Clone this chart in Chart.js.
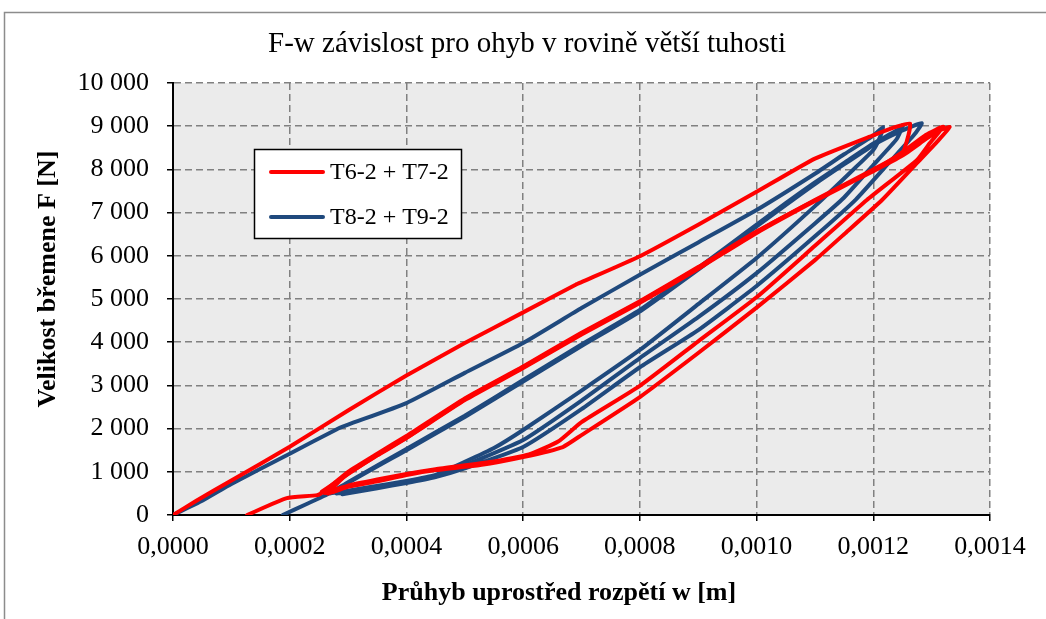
<!DOCTYPE html>
<html>
<head>
<meta charset="utf-8">
<script src="https://cdn.jsdelivr.net/npm/chart.js@4.4.1/dist/chart.umd.min.js"></script>
<style>
  html, body { margin: 0; padding: 0; background: #fff; }
  #wrap { width: 1046px; height: 619px; position: relative; }
</style>
</head>
<body>
<div id="wrap"><canvas id="chart" width="1046" height="619"></canvas></div>
<script>
// Popisky a osy
const titleText = 'F-w závislost pro ohyb v rovině větší tuhosti';
const xTitle = 'Průhyb uprostřed rozpětí w [m]';
const yTitle = 'Velikost břemene F [N]';
const seriesNames = ['T6-2 + T7-2', 'T8-2 + T9-2'];
const seriesColors = ['#ff0000', '#1f497d'];

// T6-2 : první zatížení a odlehčení
const t6W = [0, 0.00004, 0.0001, 0.0002, 0.0003, 0.0004, 0.0005, 0.0006, 0.00069, 0.0007, 0.0008, 0.0009, 0.001, 0.0011, 0.0012, 0.00124, 0.001263,
  0.00126, 0.00125, 0.0012, 0.0011, 0.001, 0.0009, 0.0008, 0.0007, 0.0006, 0.0005, 0.0004, 0.00035, 0.0003, 0.000255];
const t6F = [0, 330, 800, 1580, 2420, 3230, 3980, 4690, 5330, 5390, 5990, 6720, 7480, 8250, 8790, 8990, 9060,
  8780, 8380, 8000, 7290, 6550, 5720, 4930, 4200, 3420, 2680, 1790, 1390, 950, 540];

// T7-2 : opakované cykly
const t7W = [0.000127, 0.000195, 0.000247, 0.00026,
  0.0003, 0.00035, 0.0004, 0.0005, 0.0006, 0.0007, 0.0008, 0.0009, 0.001, 0.0011, 0.0012, 0.00125, 0.00129, 0.00131, 0.001331,
  0.00131, 0.001275, 0.001215, 0.00115, 0.0011, 0.001, 0.0009, 0.0008, 0.0007, 0.000668, 0.0006, 0.000526, 0.00045, 0.0004, 0.00035, 0.0003, 0.000265,
  0.0003, 0.00035, 0.0004, 0.0005, 0.0006, 0.0007, 0.0008, 0.0009, 0.001, 0.0011, 0.0012, 0.00125, 0.00129, 0.00132,
  0.001297, 0.001275, 0.001189, 0.0011, 0.001, 0.0009, 0.0008, 0.0007, 0.00066, 0.00061, 0.00055, 0.00045, 0.0004, 0.00035, 0.0003, 0.00026];
const t7F = [0, 390, 460, 560,
  1000, 1420, 1830, 2700, 3440, 4220, 4950, 5740, 6560, 7280, 7960, 8320, 8700, 8880, 8981,
  8650, 8150, 7292, 6500, 5900, 4800, 3750, 2730, 1850, 1574, 1343, 1157, 1040, 926, 780, 650, 500,
  960, 1380, 1780, 2660, 3400, 4180, 4910, 5700, 6530, 7270, 7970, 8400, 8800, 8990,
  8611, 8218, 7292, 6230, 5040, 4020, 2990, 2150, 1700, 1400, 1240, 1060, 950, 820, 680, 510];

// T8-2 : první zatížení a odlehčení
const t8W = [0, 0.00005, 0.0001, 0.0002, 0.00028, 0.0003, 0.0004, 0.0005, 0.0006, 0.0007, 0.0008, 0.0009, 0.001, 0.0011, 0.00115, 0.0012, 0.001217,
  0.00121, 0.0012, 0.00117, 0.0011, 0.001, 0.0009, 0.0008, 0.0007, 0.0006, 0.00055, 0.0005, 0.00045, 0.0004, 0.00033, 0.00027];
const t8F = [0, 330, 720, 1420, 1980, 2090, 2590, 3290, 3980, 4790, 5560, 6310, 7060, 7900, 8350, 8780, 8980,
  8700, 8450, 8050, 7150, 5950, 4880, 3820, 2880, 1968, 1550, 1230, 930, 790, 630, 500];

// T9-2 : opakované cykly
const t9W = [0.000188, 0.00023, 0.000269,
  0.0003, 0.0004, 0.0005, 0.0006, 0.0007, 0.0008, 0.0009, 0.001, 0.00105, 0.0011, 0.00115, 0.0012, 0.00124, 0.001251,
  0.00124, 0.0012, 0.00115, 0.0011, 0.001, 0.0009, 0.0008, 0.0007, 0.0006, 0.0005, 0.00045, 0.0004, 0.00035, 0.00028,
  0.0003, 0.0004, 0.0005, 0.0006, 0.0007, 0.0008, 0.0009, 0.001, 0.0011, 0.0012, 0.00125, 0.001283,
  0.00127, 0.00123, 0.00117, 0.0011, 0.001, 0.0009, 0.0008, 0.0007, 0.0006, 0.0005, 0.00045, 0.0004, 0.00035, 0.00029];
const t9F = [0, 260, 509,
  760, 1530, 2300, 3125, 3950, 4745, 5720, 6720, 7220, 7700, 8150, 8600, 8900, 9030,
  8700, 8100, 7350, 6750, 5600, 4580, 3634, 2650, 1736, 1150, 900, 760, 640, 500,
  740, 1500, 2270, 3090, 3910, 4710, 5680, 6680, 7660, 8560, 8900, 9070,
  8800, 8200, 7300, 6450, 5300, 4280, 3420, 2450, 1574, 1080, 880, 740, 620, 480];

const xTicks = [0, 0.0002, 0.0004, 0.0006, 0.0008, 0.0010, 0.0012, 0.0014];
const yTicks = [0, 1000, 2000, 3000, 4000, 5000, 6000, 7000, 8000, 9000, 10000];

const serif = 'Liberation Serif';

function toPoints(w, f) {
  return w.map((x, i) => ({ x: x, y: f[i] }));
}

function lineSet(label, w, f, color) {
  return {
    label: label,
    data: toPoints(w, f),
    showLine: true,
    borderColor: color,
    backgroundColor: color,
    borderWidth: 4,
    pointRadius: 0,
    tension: 0.15,
    borderJoinStyle: 'round',
    borderCapStyle: 'round'
  };
}

// pozadí, rámeček, legenda a názvy os
const decor = {
  id: 'decor',
  beforeDraw(chart) {
    const { ctx, chartArea: a } = chart;
    ctx.save();
    ctx.fillStyle = '#fff';
    ctx.fillRect(0, 0, chart.width, chart.height);
    ctx.strokeStyle = '#8c8c8c';
    ctx.lineWidth = 1.5;
    ctx.beginPath();
    ctx.moveTo(4.5, chart.height);
    ctx.lineTo(4.5, 12.5);
    ctx.lineTo(chart.width, 12.5);
    ctx.stroke();
    ctx.fillStyle = '#ebebeb';
    ctx.fillRect(a.left, a.top, a.right - a.left, a.bottom - a.top);
    ctx.restore();
  },
  afterDraw(chart) {
    const ctx = chart.ctx;
    ctx.save();
    // legenda
    ctx.fillStyle = '#fff';
    ctx.fillRect(254.5, 149.5, 207, 89);
    ctx.strokeStyle = '#000';
    ctx.lineWidth = 1.5;
    ctx.strokeRect(254.5, 149.5, 207, 89);
    ctx.font = '24px "' + serif + '"';
    ctx.textBaseline = 'middle';
    ctx.textAlign = 'left';
    seriesNames.forEach((name, i) => {
      const y = 172 + i * 45;
      ctx.strokeStyle = seriesColors[i];
      ctx.lineWidth = 4;
      ctx.lineCap = 'round';
      ctx.beginPath();
      ctx.moveTo(271, y);
      ctx.lineTo(323, y);
      ctx.stroke();
      ctx.fillStyle = '#000';
      ctx.fillText(name, 330, y + 1);
    });
    // názvy os
    ctx.font = 'bold 26px "' + serif + '"';
    ctx.textAlign = 'center';
    ctx.fillText(xTitle, 559, 593);
    ctx.translate(48, 279);
    ctx.rotate(-Math.PI / 2);
    ctx.fillText(yTitle, 0, 0);
    ctx.restore();
  }
};

new Chart(document.getElementById('chart'), {
  type: 'scatter',
  data: {
    datasets: [
      lineSet(seriesNames[0], t6W, t6F, seriesColors[0]),
      lineSet(seriesNames[0], t7W, t7F, seriesColors[0]),
      lineSet(seriesNames[1], t8W, t8F, seriesColors[1]),
      lineSet(seriesNames[1], t9W, t9F, seriesColors[1])
    ]
  },
  options: {
    responsive: false,
    animation: false,
    layout: { padding: { left: 64, right: 56, top: 0, bottom: 0 } },
    plugins: {
      legend: { display: false },
      tooltip: { enabled: false },
      title: {
        display: true,
        text: titleText,
        color: '#000',
        font: { family: serif, size: 29, weight: 'normal', lineHeight: 1.2 },
        padding: { top: 26.6, bottom: 21.6 }
      }
    },
    scales: {
      x: {
        type: 'linear',
        min: xTicks[0],
        max: xTicks[xTicks.length - 1],
        afterBuildTicks(scale) { scale.ticks = xTicks.map(v => ({ value: v })); },
        afterFit(scale) { scale.height = 104; },
        ticks: {
          color: '#000',
          padding: 11,
          maxRotation: 0,
          font: { family: serif, size: 26 },
          callback: v => Number(v).toFixed(4).replace('.', ',')
        },
        grid: { color: '#808080', lineWidth: 1.5, tickColor: '#000', tickLength: 6, tickWidth: 1.5 },
        border: { display: true, color: '#000', width: 2, dash: [7, 4] }
      },
      y: {
        type: 'linear',
        min: yTicks[0],
        max: yTicks[yTicks.length - 1],
        afterBuildTicks(scale) { scale.ticks = yTicks.map(v => ({ value: v })); },
        afterFit(scale) { scale.width = 109; },
        ticks: {
          color: '#000',
          padding: 18,
          font: { family: serif, size: 26 },
          callback: v => String(v).replace(/\B(?=(\d{3})+(?!\d))/g, ' ')
        },
        grid: { color: '#808080', lineWidth: 1.5, tickColor: '#000', tickLength: 6, tickWidth: 1.5 },
        border: { display: true, color: '#000', width: 2, dash: [7, 4] }
      }
    }
  },
  plugins: [decor]
});
</script>
</body>
</html>
